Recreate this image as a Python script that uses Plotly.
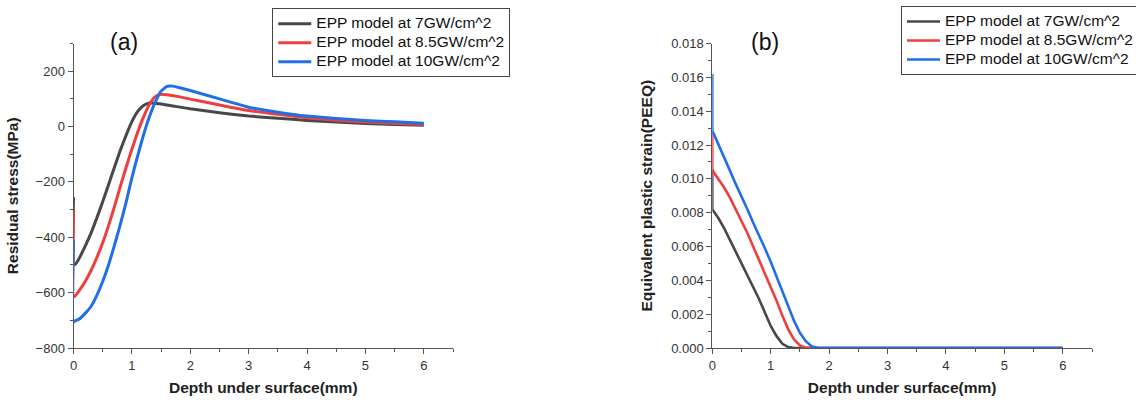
import plotly.graph_objects as go

W, H = 1136, 400

labels = ["EPP model at 7GW/cm^2", "EPP model at 8.5GW/cm^2", "EPP model at 10GW/cm^2"]
colors = ["#484848", "#ef3e3e", "#1f6fe6"]

# ---- (a) residual stress (MPa) vs depth (mm)
x_a_7 = [0, 0, 0.03, 0.1, 0.2, 0.3, 0.4, 0.5, 0.6, 0.7, 0.8, 0.9, 1.0, 1.1, 1.2, 1.3, 1.4, 1.6, 1.8, 2.0, 2.5, 3.0, 3.5, 4.0, 4.5, 5.0, 5.5, 6.0]
s_a_7 = [-255, -495, -498, -475, -432, -385, -330, -272, -210, -148, -87, -32, 18, 55, 76, 85, 84, 78, 71, 64, 50, 38, 30, 22, 16, 11, 7, 5]

x_a_85 = [0, 0, 0.03, 0.1, 0.2, 0.3, 0.4, 0.5, 0.6, 0.7, 0.8, 0.9, 1.0, 1.1, 1.2, 1.3, 1.4, 1.5, 1.6, 1.8, 2.0, 2.5, 3.0, 3.5, 4.0, 4.5, 5.0, 5.5, 6.0]
s_a_85 = [-305, -615, -612, -592, -560, -520, -473, -420, -358, -290, -218, -148, -82, -20, 35, 80, 108, 117, 115, 108, 99, 78, 58, 44, 32, 23, 16, 11, 7]

x_a_10 = [0, 0, 0.05, 0.1, 0.2, 0.3, 0.4, 0.5, 0.6, 0.7, 0.8, 0.9, 1.0, 1.1, 1.2, 1.3, 1.4, 1.5, 1.6, 1.7, 1.8, 2.0, 2.5, 3.0, 3.5, 4.0, 4.5, 5.0, 5.5, 6.0]
s_a_10 = [-410, -705, -700, -695, -675, -650, -610, -560, -500, -430, -355, -275, -185, -105, -30, 35, 88, 128, 145, 146, 141, 130, 100, 70, 52, 38, 29, 22, 17, 12]

# ---- (b) equivalent plastic strain vs depth (mm)
x_b_7 = [0, 0, 0.02, 0.1, 0.2, 0.3, 0.4, 0.5, 0.6, 0.7, 0.8, 0.9, 1.0, 1.1, 1.2, 1.3, 1.4, 1.6, 2, 3, 4, 5, 6]
p_b_7 = [0.0105, 0.0082, 0.0081, 0.0077, 0.0071, 0.0064, 0.0057, 0.0050, 0.0043, 0.0036, 0.0029, 0.0021, 0.0013, 0.0007, 0.00025, 0.00005, 0, 0, 0, 0, 0, 0, 0]

x_b_85 = [0, 0, 0.02, 0.1, 0.2, 0.3, 0.4, 0.5, 0.6, 0.7, 0.8, 0.9, 1.0, 1.1, 1.2, 1.3, 1.4, 1.5, 1.6, 1.7, 2, 3, 4, 5, 6]
p_b_85 = [0.0128, 0.0106, 0.0104, 0.0100, 0.0095, 0.0089, 0.0082, 0.0075, 0.0068, 0.0060, 0.0052, 0.0045, 0.0037, 0.0028, 0.0019, 0.0011, 0.0005, 0.00015, 0.00002, 0, 0, 0, 0, 0, 0]

x_b_10 = [0, 0, 0.02, 0.1, 0.2, 0.3, 0.4, 0.5, 0.6, 0.7, 0.8, 0.9, 1.0, 1.1, 1.2, 1.3, 1.4, 1.5, 1.6, 1.7, 1.8, 1.9, 2, 3, 4, 5, 6]
p_b_10 = [0.0162, 0.0128, 0.0127, 0.0121, 0.0113, 0.0105, 0.0097, 0.0090, 0.0082, 0.0074, 0.0067, 0.0059, 0.0051, 0.0042, 0.0033, 0.0024, 0.0016, 0.0009, 0.0004, 0.0001, 0.00001, 0, 0, 0, 0, 0, 0]

series_a = [(x_a_7, s_a_7), (x_a_85, s_a_85), (x_a_10, s_a_10)]
series_b = [(x_b_7, p_b_7), (x_b_85, p_b_85), (x_b_10, p_b_10)]

FONT = "Liberation Sans, Arial, sans-serif"
LEG_TXT = 15.5


def leg_name(s):
    return "<span style='font-size:%spx'>%s</span>" % (LEG_TXT, s)


fig = go.Figure()
for (xs, ys), name, c in zip(series_a, labels, colors):
    fig.add_trace(go.Scatter(x=xs, y=ys, mode="lines", name=leg_name(name),
                             line=dict(color=c, width=3, shape="spline", smoothing=0.4),
                             xaxis="x", yaxis="y", legend="legend"))
for (xs, ys), name, c in zip(series_b, labels, colors):
    fig.add_trace(go.Scatter(x=xs, y=ys, mode="lines", name=leg_name(name),
                             line=dict(color=c, width=2.6, shape="linear"),
                             xaxis="x2", yaxis="y2", legend="legend2"))

axcol = "#555555"
common_axis = dict(showgrid=False, zeroline=False, showline=True, linecolor=axcol, linewidth=1,
                   ticks="outside", ticklen=5, tickcolor=axcol, tickwidth=1,
                   tickfont=dict(family=FONT, size=13, color="#333333"),
                   layer="below traces", automargin=False)

ydom = [1 - 348 / H, 1 - 43.5 / H]
TFONT = dict(family=FONT, size=15.5, color="#222222")

fig.update_layout(
    width=W, height=H,
    margin=dict(l=0, r=0, t=0, b=0, autoexpand=False),
    paper_bgcolor="white", plot_bgcolor="white",
    font=dict(family=FONT, color="#222222"),
    xaxis=dict(common_axis, domain=[73.5 / W, 453 / W], range=[0, 6.5], dtick=1, tick0=0,
               minor=dict(dtick=0.5, ticks="outside", ticklen=3, tickcolor=axcol),
               title=dict(text="<b>Depth under surface(mm)</b>", standoff=10, font=TFONT),
               anchor="y"),
    yaxis=dict(common_axis, domain=ydom, range=[-800, 300], dtick=200, tick0=0,
               minor=dict(dtick=100, ticks="outside", ticklen=3, tickcolor=axcol),
               title=dict(text="<b>Residual stress(MPa)</b>", standoff=13, font=TFONT),
               anchor="x"),
    xaxis2=dict(common_axis, domain=[712.3 / W, 1092 / W], range=[0, 6.5], dtick=1, tick0=0,
                minor=dict(dtick=0.5, ticks="outside", ticklen=3, tickcolor=axcol),
                title=dict(text="<b>Depth under surface(mm)</b>", standoff=10, font=TFONT),
                anchor="y2"),
    yaxis2=dict(common_axis, domain=ydom, range=[0, 0.018], dtick=0.002, tick0=0,
                tickformat=".3f",
                minor=dict(dtick=0.001, ticks="outside", ticklen=3, tickcolor=axcol),
                title=dict(text="<b>Equivalent plastic strain(PEEQ)</b>", standoff=14, font=TFONT),
                anchor="x2"),
    legend=dict(x=272.3 / W, y=1 - 8.3 / H, xanchor="left", yanchor="top",
                bordercolor="#444444", borderwidth=1, bgcolor="white",
                font=dict(family=FONT, size=12, color="#111111"), itemwidth=33,
                tracegroupgap=0),
    legend2=dict(x=901 / W, y=1 - 6 / H, xanchor="left", yanchor="top",
                 bordercolor="#444444", borderwidth=1, bgcolor="white",
                 font=dict(family=FONT, size=12, color="#111111"), itemwidth=33,
                 tracegroupgap=0),
    annotations=[
        dict(text="(a)", x=124 / W, y=1 - 41.7 / H, xref="paper", yref="paper",
             showarrow=False, xanchor="center", yanchor="middle",
             font=dict(family=FONT, size=23, color="#111111")),
        dict(text="(b)", x=765 / W, y=1 - 41.7 / H, xref="paper", yref="paper",
             showarrow=False, xanchor="center", yanchor="middle",
             font=dict(family=FONT, size=23, color="#111111")),
    ],
)

fig.write_html("out.html")
